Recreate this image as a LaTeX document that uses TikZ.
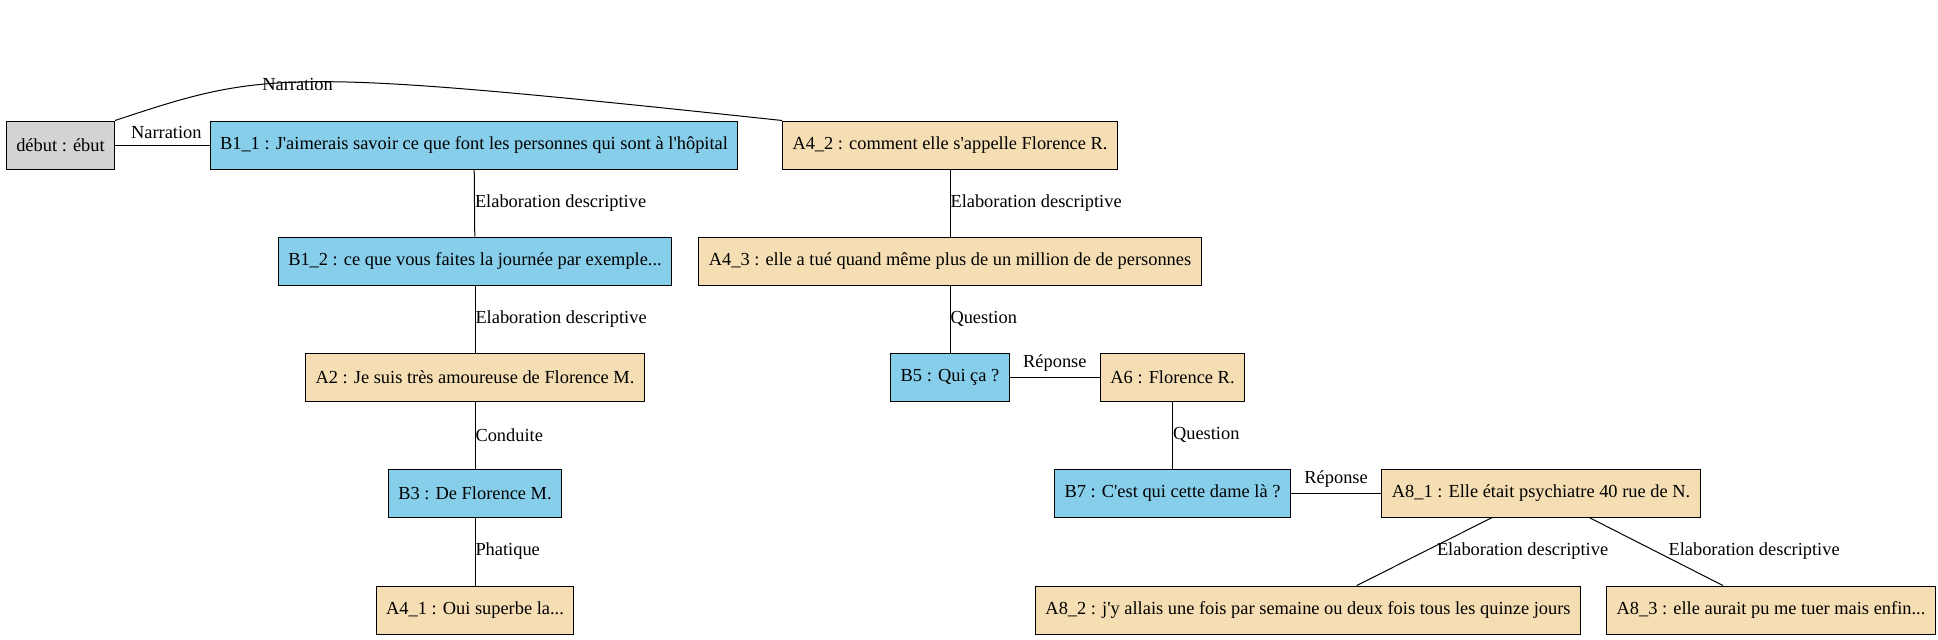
\documentclass[tikz,border=0pt]{standalone}
\usepackage{fontspec}
\setmainfont{Liberation Serif}[Ligatures=TeXOff]
\definecolor{skyblue}{RGB}{135,206,235}
\definecolor{wheat}{RGB}{245,222,179}
\definecolor{lgray}{RGB}{211,211,211}
\tikzset{
  box/.style={draw, rectangle, line width=0.75pt, minimum height=36pt, inner xsep=7.4pt, inner ysep=0pt, font=\fontsize{13.8}{16}\selectfont},
  bbox/.style={box, fill=skyblue},
  abox/.style={box, fill=wheat},
  sbox/.style={box, fill=lgray},
  lbl/.style={font=\fontsize{13.8}{16}\selectfont, inner sep=0pt},
  link/.style={line width=0.75pt}
}
\begin{document}
\begin{tikzpicture}[x=0.75pt,y=-0.75pt]
\useasboundingbox (0,0) rectangle (1938,639);
\node[sbox] (debut) at (60.5,145) {début : ébut};
\node[bbox] (b11) at (474,145) {B1\_1 : J'aimerais savoir ce que font les personnes qui sont à l'hôpital};
\node[abox] (a42) at (950,145) {A4\_2 : comment elle s'appelle Florence R.};
\node[bbox] (b12) at (475,261) {B1\_2 : ce que vous faites la journée par exemple...};
\node[abox] (a43) at (950,261) {A4\_3 : elle a tué quand même plus de un million de de personnes};
\node[abox] (a2) at (475,377) {A2 : Je suis très amoureuse de Florence M.};
\node[bbox] (b5) at (950,377) {B5 : Qui ça ?};
\node[abox] (a6) at (1172.5,377) {A6 : Florence R.};
\node[bbox] (b3) at (475,493) {B3 : De Florence M.};
\node[bbox] (b7) at (1172.5,493) {B7 : C'est qui cette dame là ?};
\node[abox] (a81) at (1541,493) {A8\_1 : Elle était psychiatre 40 rue de N.};
\node[abox] (a41) at (475,610) {A4\_1 : Oui superbe la...};
\node[abox] (a82) at (1308,610) {A8\_2 : j'y allais une fois par semaine ou deux fois tous les quinze jours};
\node[abox] (a83) at (1771,610) {A8\_3 : elle aurait pu me tuer mais enfin...};
\draw[link] (debut) -- (b11) node[lbl, midway, above, yshift=4pt, xshift=3pt] {Narration};
\draw[link] (debut.north east) .. controls (266,70.5) and (281,67) .. (a42.north west) node[lbl, pos=0.46, yshift=-2pt] {Narration};
\draw[link] (b11) -- (b12) node[lbl, midway, anchor=west] {Elaboration descriptive};
\draw[link] (b12) -- (a2) node[lbl, midway, anchor=west] {Elaboration descriptive};
\draw[link] (a2) -- (b3) node[lbl, midway, anchor=west] {Conduite};
\draw[link] (b3) -- (a41) node[lbl, midway, anchor=west] {Phatique};
\draw[link] (a42) -- (a43) node[lbl, midway, anchor=west] {Elaboration descriptive};
\draw[link] (a43) -- (b5) node[lbl, midway, anchor=west] {Question};
\draw[link] (b5) -- (a6) node[lbl, midway, above, yshift=4pt] {Réponse};
\draw[link] (a6) -- (b7) node[lbl, midway, anchor=west] {Question};
\draw[link] (b7) -- (a81) node[lbl, midway, above, yshift=4pt] {Réponse};
\draw[link] (a81) -- (a82) node[lbl, midway, anchor=west, xshift=9pt] {Elaboration descriptive};
\draw[link] (a81) -- (a83) node[lbl, midway, anchor=west, xshift=9pt] {Elaboration descriptive};
\end{tikzpicture}
\end{document}
